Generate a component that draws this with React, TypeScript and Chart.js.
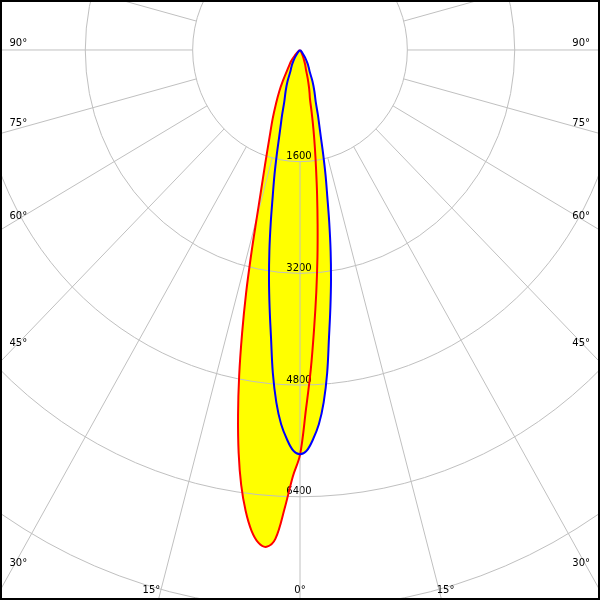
import React, { useEffect, useRef } from 'react';
import { Chart, registerables } from 'chart.js';

Chart.register(...registerables);

// Gamma angles (degrees from nadir)
const GAMMA = [0, 1, 2, 3, 4, 5, 6, 7, 8, 9, 10, 11, 12, 13, 14, 15, 16, 17.5, 20, 22.5, 25, 27.5, 30, 35, 40, 45, 50, 55, 60, 70, 80, 90];

// Luminous intensity (cd) — red plane C0 (right half) / C180 (left half)
const C0 = [5800, 5142, 4585, 4005, 3480, 2983, 2509, 2090, 1719, 1418, 1154, 914, 712, 634, 557, 479, 401, 295, 226, 158, 110, 70, 45, 15, 0, 0, 0, 0, 0, 0, 0, 0];
const C180 = [5800, 6110, 6573, 7013, 7134, 7088, 6922, 6651, 6296, 5845, 5317, 4751, 4153, 3570, 2990, 2490, 2120, 1742, 1325, 1064, 845, 670, 508, 296, 205, 100, 40, 0, 0, 0, 0, 0];

// Blue plane C90 (right half) / C270 (left half)
const C90 = [5790, 5740, 5580, 5370, 5060, 4645, 4136, 3717, 3320, 2918, 2510, 2128, 1830, 1539, 1283, 1104, 970, 780, 625, 488, 340, 280, 227, 130, 60, 20, 0, 0, 0, 0, 0, 0];
const C270 = [5790, 5740, 5580, 5370, 5060, 4645, 4136, 3717, 3320, 2918, 2510, 2128, 1830, 1539, 1283, 1104, 970, 780, 625, 488, 340, 280, 227, 130, 60, 20, 0, 0, 0, 0, 0, 0];

// Grid
const RINGS = [1600, 3200, 4800, 6400, 8000, 9600];
const RING_LABELS = ['1600', '3200', '4800', '6400'];
const ANGLE_TICKS = [0, 15, 30, 45, 60, 75, 90];
const SPOKE_STEP = 15;

// Axis ranges (cd)
const X_MIN = -4471;
const X_MAX = 4471;
const Y_MIN = -7879;
const Y_MAX = 716;

const rad = (g: number) => (g * Math.PI) / 180;

function polarLoop(left: number[], right: number[]) {
  const pts: { x: number; y: number }[] = [];
  for (let i = GAMMA.length - 1; i >= 0; i--) {
    const I = left[i];
    pts.push({ x: I === 0 ? 0 : -I * Math.sin(rad(GAMMA[i])), y: I === 0 ? 0 : -I * Math.cos(rad(GAMMA[i])) });
  }
  for (let i = 1; i < GAMMA.length; i++) {
    const I = right[i];
    pts.push({ x: I === 0 ? 0 : I * Math.sin(rad(GAMMA[i])), y: I === 0 ? 0 : -I * Math.cos(rad(GAMMA[i])) });
  }
  return pts.filter((p, i, a) => !(i > 0 && p.x === 0 && p.y === 0 && a[i - 1].x === 0 && a[i - 1].y === 0));
}

const FONT = '10px "DejaVu Sans"';

const polarGrid = {
  id: 'polarGrid',
  beforeDraw(chart: any) {
    const ctx = chart.ctx;
    ctx.save();
    ctx.fillStyle = '#ffffff';
    ctx.fillRect(0, 0, chart.width, chart.height);
    ctx.restore();
  },
  beforeDatasetsDraw(chart: any) {
    const ctx = chart.ctx;
    const xs = chart.scales.x;
    const ys = chart.scales.y;
    const cx = xs.getPixelForValue(0);
    const cy = ys.getPixelForValue(0);
    const kx = (xs.getPixelForValue(1000) - cx) / 1000;
    const ky = (cy - ys.getPixelForValue(1000)) / 1000;
    const W = chart.width;
    const H = chart.height;

    ctx.save();
    // ring value labels
    ctx.font = FONT;
    ctx.fillStyle = '#000000';
    ctx.textAlign = 'center';
    ctx.textBaseline = 'alphabetic';
    RING_LABELS.forEach((t, i) => {
      const r = RINGS[i];
      ctx.fillText(t, cx - 1, cy + r * ky - 2.5);
    });

    // rings
    ctx.strokeStyle = '#c0c0c0';
    ctx.lineWidth = 1;
    RINGS.forEach((r) => {
      ctx.beginPath();
      ctx.ellipse(cx, cy, r * kx, r * ky, 0, 0, Math.PI * 2);
      ctx.stroke();
    });
    // spokes
    const r0 = RINGS[0];
    const r1 = 20000;
    for (let a = 0; a < 360; a += SPOKE_STEP) {
      const s = Math.sin(rad(a));
      const c = Math.cos(rad(a));
      ctx.beginPath();
      ctx.moveTo(cx - r0 * s * kx, cy + r0 * c * ky);
      ctx.lineTo(cx - r1 * s * kx, cy + r1 * c * ky);
      ctx.stroke();
    }

    // angle labels
    ctx.fillStyle = '#000000';
    ctx.font = FONT;
    ANGLE_TICKS.forEach((a) => {
      const s = Math.sin(rad(a));
      const c = Math.cos(rad(a));
      if (a === 0) {
        ctx.textAlign = 'center';
        ctx.fillText(a + '°', cx, H - 7);
        return;
      }
      const x0 = 11.5;
      const t = (cx - x0) / (s * kx);
      const yl = cy + t * c * ky;
      if (yl <= H - 12) {
        ctx.textAlign = 'left';
        ctx.fillText(a + '°', 9.5, yl - 4);
        ctx.textAlign = 'right';
        ctx.fillText(a + '°', W - 10, yl - 4);
      } else {
        const y0 = H - 11.5;
        const tb = (y0 - cy) / (c * ky);
        const dx = tb * s * kx;
        ctx.textAlign = 'right';
        ctx.fillText(a + '°', cx - dx - 1, H - 7);
        ctx.textAlign = 'left';
        ctx.fillText(a + '°', cx + dx - 2, H - 7);
      }
    });
    ctx.restore();
  },
  afterDraw(chart: any) {
    const ctx = chart.ctx;
    ctx.save();
    ctx.strokeStyle = '#000000';
    ctx.lineWidth = 4;
    ctx.strokeRect(0, 0, chart.width, chart.height);
    ctx.restore();
  },
};

export default function App() {
  const ref = useRef<HTMLCanvasElement | null>(null);
  useEffect(() => {
    document.body.style.margin = '0';
    if (!ref.current) return;
    const red = polarLoop(C180, C0);
    const blue = polarLoop(C270, C90);
    const chart = new Chart(ref.current, {
      type: 'line',
      data: {
        datasets: [
          {
            label: 'C0 - C180',
            data: red,
            borderColor: '#ff0000',
            backgroundColor: '#ffff00',
            fill: 'shape',
            borderWidth: 2,
            pointRadius: 0,
            tension: 0.35,
            order: 1,
          },
          {
            label: 'C90 - C270',
            data: blue,
            borderColor: '#0000ff',
            backgroundColor: '#ffff00',
            fill: 'shape',
            borderWidth: 2,
            pointRadius: 0,
            tension: 0.35,
            order: 0,
          },
        ],
      } as any,
      options: {
        animation: false,
        responsive: false,
        maintainAspectRatio: false,
        devicePixelRatio: 1,
        events: [],
        layout: { padding: 0 },
        scales: {
          x: { type: 'linear', min: X_MIN, max: X_MAX, display: false },
          y: { type: 'linear', min: Y_MIN, max: Y_MAX, display: false },
        },
        plugins: {
          legend: { display: false },
          tooltip: { enabled: false },
          filler: { drawTime: 'beforeDatasetsDraw', propagate: false },
        },
      } as any,
      plugins: [polarGrid],
    });
    return () => chart.destroy();
  }, []);
  return (
    <div style={{ position: 'absolute', left: 0, top: 0, width: 600, height: 600 }}>
      <canvas ref={ref} width={600} height={600} style={{ display: 'block', width: 600, height: 600 }} />
    </div>
  );
}
